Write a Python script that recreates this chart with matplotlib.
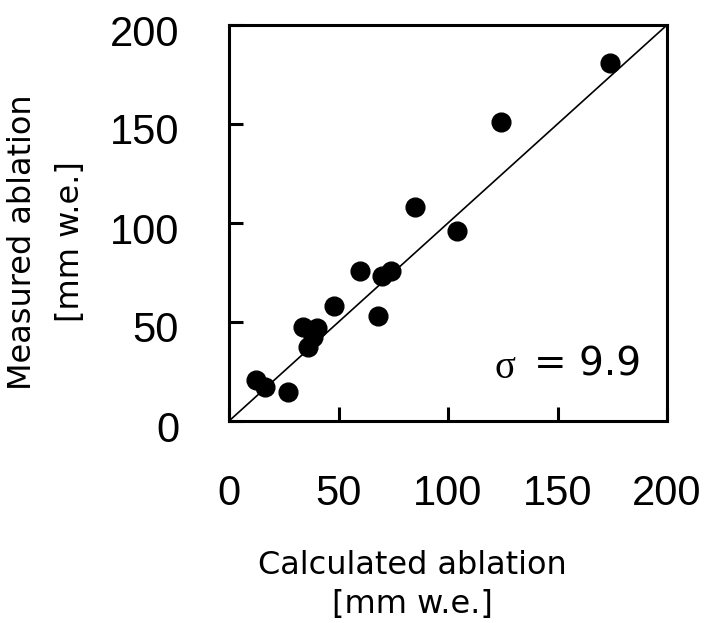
import matplotlib
matplotlib.use("Agg")
import matplotlib.pyplot as plt
import matplotlib.transforms as mtransforms

calculated = [174, 124, 85, 104, 60, 74, 70, 48, 68, 34, 40, 36, 38.5, 12.5, 16.5, 27]
measured   = [181, 151, 108, 96, 76, 76, 73, 58, 53, 47.5, 47, 37.5, 42.5, 20.7, 17.3, 14.8]
ticks = [0, 50, 100, 150, 200]
tick_labels = ["0", "50", "100", "150", "200"]
line_x = [0, 200]
line_y = [0, 200]

W, H = 706, 623
fig = plt.figure(figsize=(W / 100, H / 100), dpi=100)
plt.rcParams['font.family'] = ['Liberation Sans', 'DejaVu Sans']

ax = fig.add_axes([229 / W, 1 - 421 / H, 438 / W, 396 / H])
ax.plot(line_x, line_y, color='black', lw=1.2, zorder=2)
ax.plot(calculated, measured, 'o', color='black', markersize=13.5, zorder=3)

ax.set_xlim(0, 200)
ax.set_ylim(0, 200)
ax.set_xticks(ticks)
ax.set_xticklabels(tick_labels)
ax.set_yticks(ticks)
ax.set_yticklabels(tick_labels)
for s in ax.spines.values():
    s.set_linewidth(2.2)
ax.tick_params(direction='in', length=10, width=2.2, labelsize=30)
ax.tick_params(axis='x', pad=38)
ax.tick_params(axis='y', pad=36)

off = mtransforms.ScaledTranslation(0, -5 / 100, fig.dpi_scale_trans)
for lbl in ax.get_yticklabels():
    lbl.set_transform(lbl.get_transform() + off)

lab = dict(ha='center', va='center', fontsize=23, family=['DejaVu Sans'])
fig.text(412 / W, 1 - 565 / H, "Calculated ablation", **lab)
fig.text(412 / W, 1 - 605 / H, "[mm w.e.]", **lab)
fig.text(23 / W, 1 - 242 / H, "Measured ablation", rotation=90, **lab)
fig.text(70 / W, 1 - 242 / H, "[mm w.e.]", rotation=90, **lab)

fig.text(505 / W, 1 - 368 / H, "σ", ha='center', va='center', fontsize=28,
         family=['Liberation Serif', 'DejaVu Serif'])
fig.text(534 / W, 1 - 365 / H, "= 9.9", ha='left', va='center', fontsize=28,
         family=['DejaVu Sans'])

fig.savefig("out.png", dpi=100)
